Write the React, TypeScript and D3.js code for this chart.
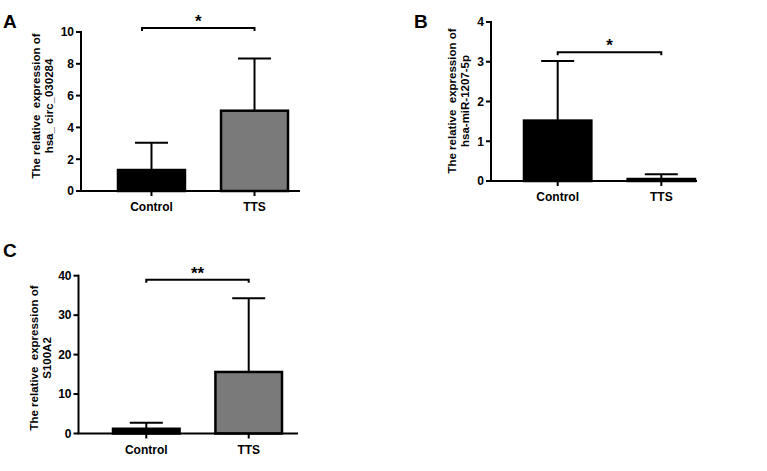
import React from "react";
import * as d3 from "d3";

const categories = ["Control", "TTS"];

const meansA = [1.32, 5.05];
const errorsA = [1.72, 3.29];
const ticksA = [0, 2, 4, 6, 8, 10];

const meansB = [1.52, 0.05];
const errorsB = [1.5, 0.12];
const ticksB = [0, 1, 2, 3, 4];

const meansC = [1.2, 15.6];
const errorsC = [1.5, 18.7];
const ticksC = [0, 10, 20, 30, 40];

const fills = ["#000000", "#7a7a7a"];

const panelsLayout = [
  {
    key: "A",
    letter: "A",
    letterX: 3, letterY: 28,
    axisX: 81, axisEnd: 300, y0: 191, yTop: 32,
    barL: 118, barR: 288,
    ymax: 10,
    means: meansA, errors: errorsA, ticks: ticksA,
    label: ["The relative\u00a0 expression of", "hsa_ circ_030284"],
    labelX: 40, labelY: 106,
    bracketY: 10.25, bracketLeftOffset: -9.5,
    stars: "*",
  },
  {
    key: "B",
    letter: "B",
    letterX: 414, letterY: 28,
    axisX: 491, axisEnd: 697, y0: 181, yTop: 22,
    barL: 524, barR: 695,
    ymax: 4,
    means: meansB, errors: errorsB, ticks: ticksB,
    label: ["The relative\u00a0 expression of", "hsa-miR-1207-5p"],
    labelX: 456, labelY: 101,
    bracketY: 3.24, bracketLeftOffset: 0,
    stars: "*",
  },
  {
    key: "C",
    letter: "C",
    letterX: 3, letterY: 257,
    axisX: 78.5, axisEnd: 298, y0: 433.5, yTop: 275.7,
    barL: 113, barR: 282,
    ymax: 40,
    means: meansC, errors: errorsC, ticks: ticksC,
    label: ["The relative\u00a0 expression of", "S100A2"],
    labelX: 38, labelY: 358,
    bracketY: 39.0, bracketLeftOffset: 0,
    stars: "**",
  },
];

const FONT = "'Liberation Sans', Arial, sans-serif";

function Panel({ p }: { p: any }) {
  const y = d3.scaleLinear().domain([0, p.ymax]).range([p.y0, p.yTop]);
  const x = d3
    .scaleBand()
    .domain(categories)
    .range([p.barL, p.barR])
    .paddingInner(0.35)
    .paddingOuter(0);
  const bw = x.bandwidth();
  const capW = 33;
  const by = y(p.bracketY);
  const bl = (x(categories[0]) as number) + bw / 2 + p.bracketLeftOffset;
  const br = (x(categories[1]) as number) + bw / 2;
  return (
    <g>
      <text
        x={p.letterX}
        y={p.letterY}
        fontFamily={FONT}
        fontWeight="bold"
        fontSize={19}
        fill="#000"
      >
        {p.letter}
      </text>
      {categories.map((c, i) => {
        const cx = (x(c) as number) + bw / 2;
        const top = y(p.means[i]);
        const et = y(p.means[i] + p.errors[i]);
        return (
          <g key={c}>
            <line x1={cx} x2={cx} y1={top} y2={et} stroke="#000" strokeWidth={2} />
            <line x1={cx - capW / 2} x2={cx + capW / 2} y1={et} y2={et} stroke="#000" strokeWidth={2} />
            <rect
              x={x(c) as number}
              y={top}
              width={bw}
              height={p.y0 - top}
              fill={fills[i]}
              stroke="#000"
              strokeWidth={2.5}
            />
          </g>
        );
      })}
      <line x1={p.axisX} x2={p.axisX} y1={p.yTop - 1} y2={p.y0} stroke="#000" strokeWidth={2} />
      {p.ticks.map((t: number) => (
        <g key={t}>
          <line x1={p.axisX - 5} x2={p.axisX} y1={y(t)} y2={y(t)} stroke="#000" strokeWidth={2} />
          <text
            x={p.axisX - 7}
            y={y(t)}
            dy="0.36em"
            textAnchor="end"
            fontFamily={FONT}
            fontWeight="bold"
            fontSize={12}
            fill="#000"
          >
            {t}
          </text>
        </g>
      ))}
      <line x1={p.axisX - 1} x2={p.axisEnd} y1={p.y0} y2={p.y0} stroke="#000" strokeWidth={2} />
      {categories.map((c) => {
        const cx = (x(c) as number) + bw / 2;
        return (
          <g key={c}>
            <line x1={cx} x2={cx} y1={p.y0} y2={p.y0 + 5} stroke="#000" strokeWidth={2} />
            <text
              x={cx}
              y={p.y0 + 20}
              textAnchor="middle"
              fontFamily={FONT}
              fontWeight="bold"
              fontSize={12}
              fill="#000"
            >
              {c}
            </text>
          </g>
        );
      })}
      <text
        transform={`translate(${p.labelX},${p.labelY}) rotate(-90)`}
        textAnchor="middle"
        fontFamily={FONT}
        fontWeight="bold"
        fontSize={11.5}
        fill="#000"
      >
        <tspan x={0} dy="0">{p.label[0]}</tspan>
        <tspan x={0} dy="12.5">{p.label[1]}</tspan>
      </text>
      <path
        d={`M${bl},${by + 3}V${by}H${br}V${by + 3}`}
        fill="none"
        stroke="#000"
        strokeWidth={2}
      />
      <text
        x={(bl + br) / 2}
        y={by - 1}
        textAnchor="middle"
        fontFamily={FONT}
        fontWeight="bold"
        fontSize={17}
        fill="#000"
      >
        {p.stars}
      </text>
    </g>
  );
}

export default function App() {
  return (
    <svg
      width={767}
      height={471}
      style={{ position: "absolute", left: 0, top: 0, background: "#fff" }}
    >
      <rect width={767} height={471} fill="#fff" />
      {panelsLayout.map((p) => (
        <Panel key={p.key} p={p} />
      ))}
    </svg>
  );
}
